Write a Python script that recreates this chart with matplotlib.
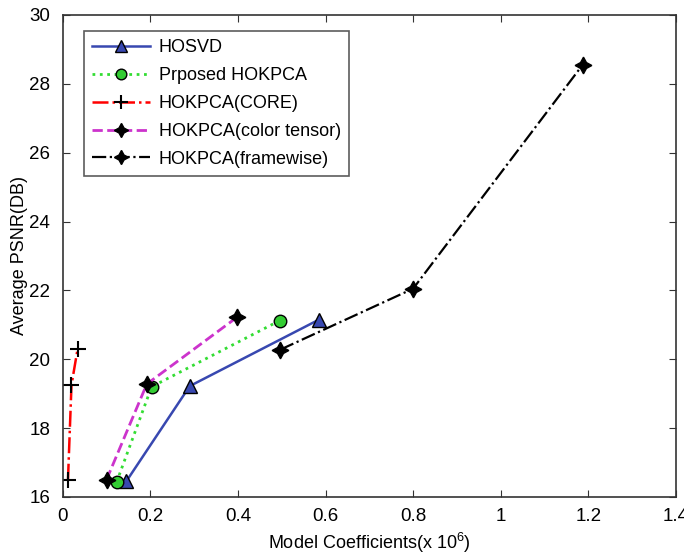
import matplotlib
matplotlib.use('Agg')
import matplotlib.pyplot as plt

# data (x in 10^6 coefficients, y in dB)
hosvd_x = [0.145, 0.29, 0.585]
hosvd_y = [16.45, 19.22, 21.15]
prop_x = [0.123, 0.203, 0.495]
prop_y = [16.43, 19.2, 21.12]
core_x = [0.012, 0.02, 0.034]
core_y = [16.5, 19.25, 20.3]
color_x = [0.1, 0.192, 0.398]
color_y = [16.5, 19.28, 21.22]
frame_x = [0.497, 0.8, 1.187]
frame_y = [20.28, 22.05, 28.55]

labels = ['HOSVD', 'Prposed HOKPCA', 'HOKPCA(CORE)',
          'HOKPCA(color tensor)', 'HOKPCA(framewise)']

plt.rcParams['font.family'] = ['Liberation Sans', 'DejaVu Sans']
plt.rcParams['mathtext.fontset'] = 'custom'
plt.rcParams['mathtext.rm'] = 'Liberation Sans'

fig = plt.figure(figsize=(6.84, 5.54), dpi=100)
ax = fig.add_axes([0.0917, 0.103, 0.8965, 0.870])

star = (4, 1, 0)

ax.plot(hosvd_x, hosvd_y, '-', color='#3848b0', lw=1.8, marker='^', ms=10,
        mfc='#3848b0', mec='black', mew=1, label=labels[0])
ax.plot(prop_x, prop_y, ':', color='#33dd33', lw=2, marker='o', ms=9,
        mfc='#33cc33', mec='black', mew=1, label=labels[1])
ax.plot(core_x, core_y, '-.', color='red', lw=1.8, marker='+', ms=12,
        mfc='black', mec='black', mew=1.5, label=labels[2])
ax.plot(color_x, color_y, '--', color='#cc33cc', lw=2, marker=star, ms=12,
        mfc='black', mec='black', mew=1, label=labels[3])
ax.plot(frame_x, frame_y, '-.', color='black', lw=1.6, marker=star, ms=12,
        mfc='black', mec='black', mew=1, label=labels[4])

ax.set_xlim(0, 1.4)
ax.set_ylim(16, 30)
ax.set_xticks([0, 0.2, 0.4, 0.6, 0.8, 1.0, 1.2, 1.4])
ax.set_xticklabels(['0', '0.2', '0.4', '0.6', '0.8', '1', '1.2', '1.4'])
ax.set_yticks(range(16, 31, 2))
ax.tick_params(direction='in', length=5, labelsize=13.5, top=True, right=True,
               labeltop=False, labelright=False, color='#333333')
ax.tick_params(axis='y', pad=9)
ax.tick_params(axis='x', pad=8)
for s in ax.spines.values():
    s.set_linewidth(1.2)
    s.set_color('#333333')

ax.set_xlabel('Model Coefficients(x 10$^6$)', fontsize=13, labelpad=4)
ax.set_ylabel('Average PSNR(DB)', fontsize=13)
ax.yaxis.set_label_coords(-0.056, 0.5)

leg = ax.legend(loc='upper left', bbox_to_anchor=(0.02, 0.985), fontsize=13,
                frameon=True, fancybox=False, edgecolor='#333333',
                handlelength=3.2, borderpad=0.45, labelspacing=0.6,
                handletextpad=0.5, markerscale=0.85)
leg.get_frame().set_linewidth(1.2)

fig.savefig('out.png', dpi=100)
